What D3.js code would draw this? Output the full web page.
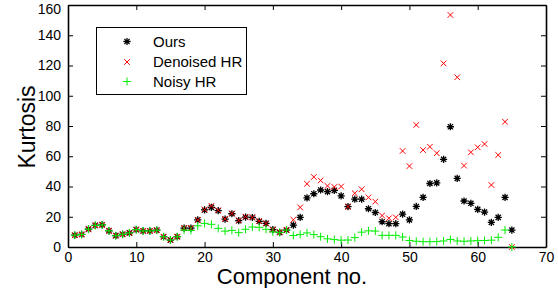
<!DOCTYPE html>
<html><head><meta charset="utf-8">
<script src="https://cdn.jsdelivr.net/npm/d3@7"></script>
<style>html,body{margin:0;padding:0;background:#fff;}svg{display:block;font-family:"Liberation Sans",Arial,Helvetica,sans-serif;}</style>
</head><body><svg id="c" width="558" height="288"></svg>
<script>
const components = d3.range(1, 66);
const ours = [7.8,8.3,11.8,14.3,14.6,10.7,7.5,8.4,9.3,11.5,
  10.6,10.6,11.1,6.8,4.6,6.8,12.5,12.5,17.9,24.5,
  26.2,24,18.4,22,17.4,19.8,19.5,17,15.6,11.5,
  9.7,11.2,14.5,19.6,32.5,35.2,37.7,36.6,37.4,33.8,
  26.7,31.6,31.6,25.3,22.8,16.7,15.4,15.4,21.7,17.9,
  26.8,32.8,42,42.4,58,79.5,45.4,30.4,28.9,24.9,
  23.1,16.3,19.6,32.8,11.2];
const denoised = [7.8,8.3,11.8,14.3,14.6,10.7,7.5,8.4,9.3,11.5,
  10.6,10.6,11.1,6.8,4.6,6.8,12.5,12.5,17.9,24.8,
  27.2,24.3,18.6,22.2,17.6,20,19.6,17.2,15.6,11.6,
  9.8,11.3,18,26.2,41.8,46.3,44,40.4,39.7,40,
  26.7,35.5,38.2,32.8,30,20.8,19,19.6,63.5,53.5,
  80.7,64.1,66.3,62,121.4,153.4,112.2,53.8,62.6,65.9,
  68.1,41,60.8,82.8,0];
const noisy = [7.8,8.3,11.8,14.3,14.6,10.7,7.5,8.4,9.3,11.5,
  10.6,10.6,11.1,6.8,4.6,6.8,11.2,11,14,15.6,
  15,12.3,10.5,11,9.5,11.7,13.2,13,11.7,10,
  9.5,11.2,7.6,8.3,9.3,8.2,6.8,5.4,4.9,4.5,
  4.6,6.2,9.8,10.7,10.5,7.7,7.7,7.7,6.6,4.3,
  3.8,3.5,3.5,3.6,4,5,4,3.8,4,4.2,
  4.3,4.5,6.4,11.2,0];
const xTicks = [0,10,20,30,40,50,60,70];
const yTicks = [0,20,40,60,80,100,120,140,160];
const legendLabels = ["Ours","Denoised HR","Noisy HR"];

const svg = d3.select("#c");
const L = 68, R = 546, T = 5, B = 247;
const x = d3.scaleLinear().domain([0,70]).range([L,R]);
const y = d3.scaleLinear().domain([0,160]).range([B,T]);

const markers = {
  star: "M-3.6,0H3.6M0,-3.6V3.6M-2.6,-2.6L2.6,2.6M-2.6,2.6L2.6,-2.6",
  cross: "M-2.8,-2.8L2.8,2.8M-2.8,2.8L2.8,-2.8",
  plus: "M-4,0H4M0,-4V4"
};
const series = [
  {vals: ours, marker: "star", color: "#000", w: 1.3},
  {vals: denoised, marker: "cross", color: "#ff0000", w: 1},
  {vals: noisy, marker: "plus", color: "#00ee00", w: 1}
];

const axB = svg.append("g").attr("transform",`translate(0,${B})`)
  .call(d3.axisBottom(x).tickValues(xTicks).tickSizeInner(-5).tickSizeOuter(0).tickPadding(5));
const axT = svg.append("g").attr("transform",`translate(0,${T})`)
  .call(d3.axisTop(x).tickValues(xTicks).tickSizeInner(-5).tickSizeOuter(0).tickFormat(""));
const axL = svg.append("g").attr("transform",`translate(${L},0)`)
  .call(d3.axisLeft(y).tickValues(yTicks).tickSizeInner(-5).tickSizeOuter(0).tickPadding(7));
const axR = svg.append("g").attr("transform",`translate(${R},0)`)
  .call(d3.axisRight(y).tickValues(yTicks).tickSizeInner(-5).tickSizeOuter(0).tickFormat(""));
[axB,axT,axL,axR].forEach(a=>{
  a.select(".domain").attr("stroke","#000").attr("stroke-width",1.6);
  a.selectAll(".tick line").attr("stroke","#000").attr("stroke-width",1);
  a.selectAll("text").attr("font-size",14).attr("fill","#000").attr("font-family","Liberation Sans, Arial, sans-serif");
});
axL.selectAll(".tick").filter(d=>d===160).select("text").attr("dy","0.6em");

series.forEach(s=>{
  svg.append("g").selectAll("path").data(s.vals).join("path")
    .attr("d", markers[s.marker])
    .attr("transform",(d,i)=>`translate(${x(components[i])},${y(d)})`)
    .attr("fill","none").attr("stroke",s.color).attr("stroke-width",s.w);
});

const lg = svg.append("g");
lg.append("rect").attr("x",96.5).attr("y",27.5).attr("width",150).attr("height",67)
  .attr("fill","#fff").attr("stroke","#000").attr("stroke-width",1);
const rowY = [41.5,62,81.5];
series.forEach((s,i)=>{
  lg.append("path").attr("d",markers[s.marker]).attr("transform",`translate(127,${rowY[i]})`)
    .attr("fill","none").attr("stroke",s.color).attr("stroke-width",s.w);
  lg.append("text").attr("x",153).attr("y",rowY[i]).attr("dy","0.36em")
    .attr("font-size",15).text(legendLabels[i]);
});

svg.append("text").attr("x",292).attr("y",284).attr("text-anchor","middle")
  .attr("font-size",22).text("Component no.");
svg.append("text").attr("transform","translate(35,127) rotate(-90)").attr("text-anchor","middle")
  .attr("font-size",23).text("Kurtosis");
</script></body></html>
